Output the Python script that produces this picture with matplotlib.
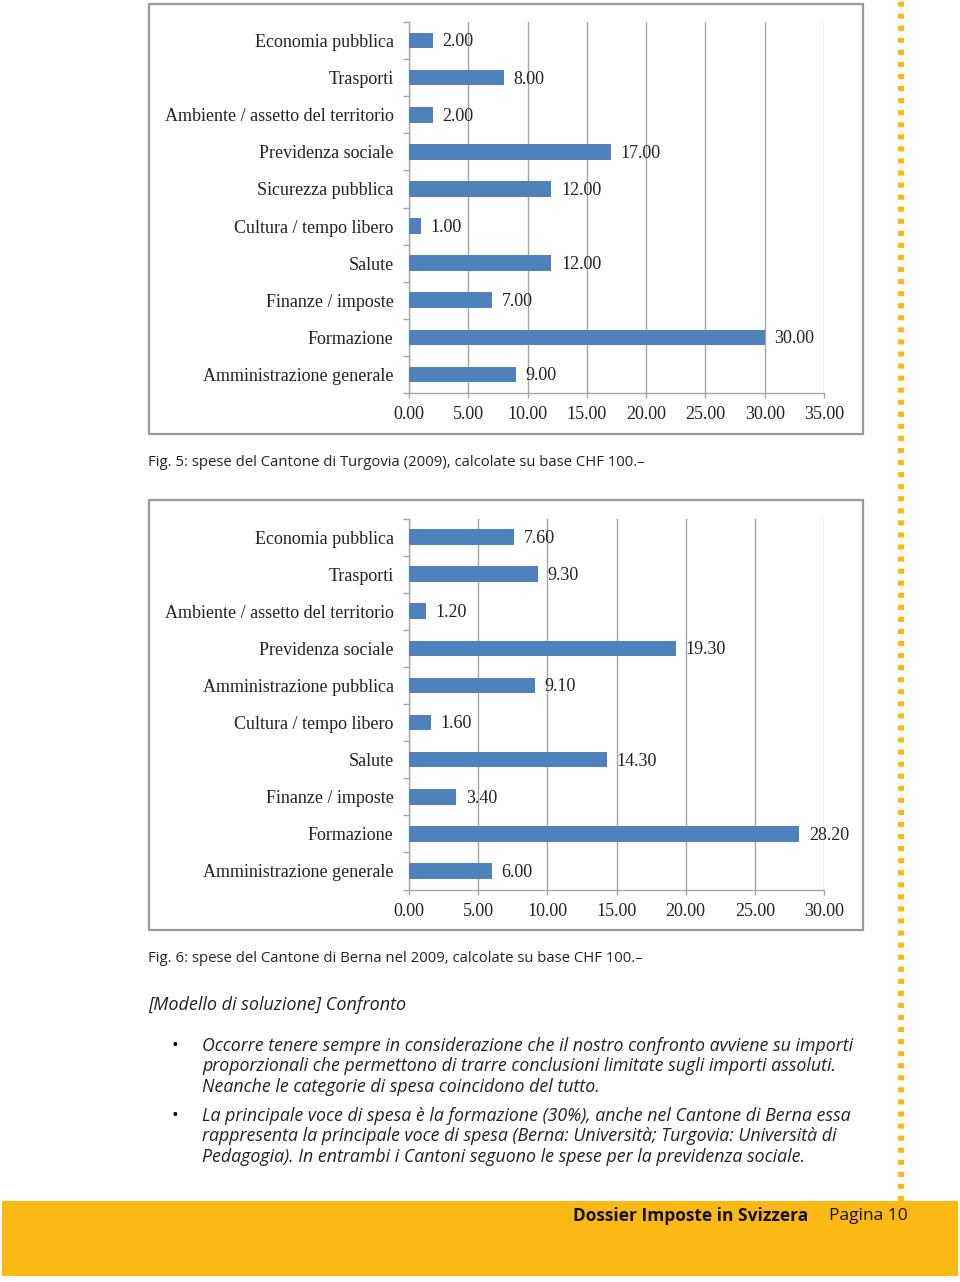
import matplotlib
matplotlib.use('Agg')
import matplotlib.pyplot as plt
from matplotlib.patches import Rectangle
from matplotlib.lines import Line2D
import numpy as np

W, H = 960, 1282

# data, top chart (Turgovia 2009)
cats_tg = ['Economia pubblica', 'Trasporti', 'Ambiente / assetto del territorio',
           'Previdenza sociale', 'Sicurezza pubblica', 'Cultura / tempo libero',
           'Salute', 'Finanze / imposte', 'Formazione', 'Amministrazione generale']
vals_tg = [2.00, 8.00, 2.00, 17.00, 12.00, 1.00, 12.00, 7.00, 30.00, 9.00]
xticks_tg = [0, 5, 10, 15, 20, 25, 30, 35]

# data, bottom chart (Berna 2009)
cats_be = ['Economia pubblica', 'Trasporti', 'Ambiente / assetto del territorio',
           'Previdenza sociale', 'Amministrazione pubblica', 'Cultura / tempo libero',
           'Salute', 'Finanze / imposte', 'Formazione', 'Amministrazione generale']
vals_be = [7.60, 9.30, 1.20, 19.30, 9.10, 1.60, 14.30, 3.40, 28.20, 6.00]
xticks_be = [0, 5, 10, 15, 20, 25, 30]

cap5 = 'Fig. 5: spese del Cantone di Turgovia (2009), calcolate su base CHF 100.\u2013'
cap6 = 'Fig. 6: spese del Cantone di Berna nel 2009, calcolate su base CHF 100.\u2013'
heading = '[Modello di soluzione] Confronto'
bullet1 = ['Occorre tenere sempre in considerazione che il nostro confronto avviene su importi',
           'proporzionali che permettono di trarre conclusioni limitate sugli importi assoluti.',
           'Neanche le categorie di spesa coincidono del tutto.']
bullet2 = ['La principale voce di spesa \u00e8 la formazione (30%), anche nel Cantone di Berna essa',
           'rappresenta la principale voce di spesa (Berna: Universit\u00e0; Turgovia: Universit\u00e0 di',
           'Pedagogia). In entrambi i Cantoni seguono le spese per la previdenza sociale.']

BLUE = '#4f81bd'
GRID = '#a6a6a6'
SERIF = 'Liberation Serif'
SANS = 'Open Sans'
FS = 13

fig = plt.figure(figsize=(W / 100, H / 100), dpi=100)


def px(x0, y0, x1, y1):
    return [x0 / W, 1 - y1 / H, (x1 - x0) / W, (y1 - y0) / H]


def frame(x0, y0, x1, y1):
    fig.patches.append(Rectangle((x0 / W, 1 - y1 / H), (x1 - x0) / W, (y1 - y0) / H,
                                 transform=fig.transFigure, fill=False,
                                 edgecolor='#9a9a9a', lw=1.6))


def bar_chart(rect, cats, vals, xticks):
    ax = fig.add_axes(px(*rect))
    y = np.arange(len(cats))
    ax.barh(y, vals, height=0.42, color=BLUE, zorder=3)
    ax.set_xlim(xticks[0], xticks[-1])
    ax.set_ylim(len(cats) - 0.5, -0.5)
    ax.set_xticks(xticks)
    ax.set_xticklabels(['%.2f' % t for t in xticks], fontsize=FS, family=SERIF, color='#222222')
    ax.set_yticks(y)
    ax.set_yticklabels(cats, fontsize=FS, family=SERIF, color='#222222')
    ax.set_yticks(np.arange(len(cats) + 1) - 0.5, minor=True)
    ax.tick_params(axis='y', which='major', length=0, pad=11)
    ax.tick_params(axis='y', which='minor', length=4.5, color=GRID, width=1)
    ax.tick_params(axis='x', length=3.5, color=GRID, width=1, pad=6)
    ax.grid(axis='x', color=GRID, lw=1, zorder=0)
    for s in ['top', 'right']:
        ax.spines[s].set_visible(False)
    for s in ['left', 'bottom']:
        ax.spines[s].set_color(GRID)
        ax.spines[s].set_linewidth(1)
    for yi, v in zip(y, vals):
        ax.annotate('%.2f' % v, (v, yi), xytext=(7, -1), textcoords='offset points',
                    va='center', ha='left', fontsize=FS, family=SERIF, color='#222222')
    return ax


frame(149, 4, 863, 434)
bar_chart((409, 22, 824, 393), cats_tg, vals_tg, xticks_tg)
frame(149, 500, 863, 930)
bar_chart((409, 518.5, 824, 889.5), cats_be, vals_be, xticks_be)

fig.text(148 / W, 1 - 462 / H, cap5, fontsize=10.75, family=SANS, va='center', color='#222222')
fig.text(148 / W, 1 - 958 / H, cap6, fontsize=10.75, family=SANS, va='center', color='#222222')
fig.text(148 / W, 1 - 1005 / H, heading, fontsize=13, family=SANS, style='italic',
         va='center', color='#222222')

for lines, y0 in [(bullet1, 1046), (bullet2, 1116)]:
    fig.text(175 / W, 1 - y0 / H, '\u2022', fontsize=13, family=SANS, va='center', ha='center')
    for i, ln in enumerate(lines):
        fig.text(202 / W, 1 - (y0 + i * 20.3) / H, ln, fontsize=12.8, family=SANS,
                 style='italic', va='center', color='#222222')

# footer band
fig.patches.append(Rectangle((2 / W, 1 - 1276 / H), 956 / W, 75 / H,
                             transform=fig.transFigure, color='#fcb813', lw=0))
fig.text(808 / W, 1 - 1216 / H, 'Dossier Imposte in Svizzera', fontsize=12.5, family=SANS,
         weight='bold', ha='right', va='center', color='#111111')
fig.text(829 / W, 1 - 1216 / H, 'Pagina 10', fontsize=12.5, family=SANS,
         ha='left', va='center', color='#111111')

# dotted yellow rule on the right
fig.lines.append(Line2D([901 / W, 901 / W], [1 - 1201 / H, 1.0], transform=fig.transFigure,
                        color='#fcb813', lw=4.3, linestyle=(0, (0.85, 1.17)),
                        solid_capstyle='butt', dash_capstyle='butt'))

fig.savefig('out.png', dpi=100)
